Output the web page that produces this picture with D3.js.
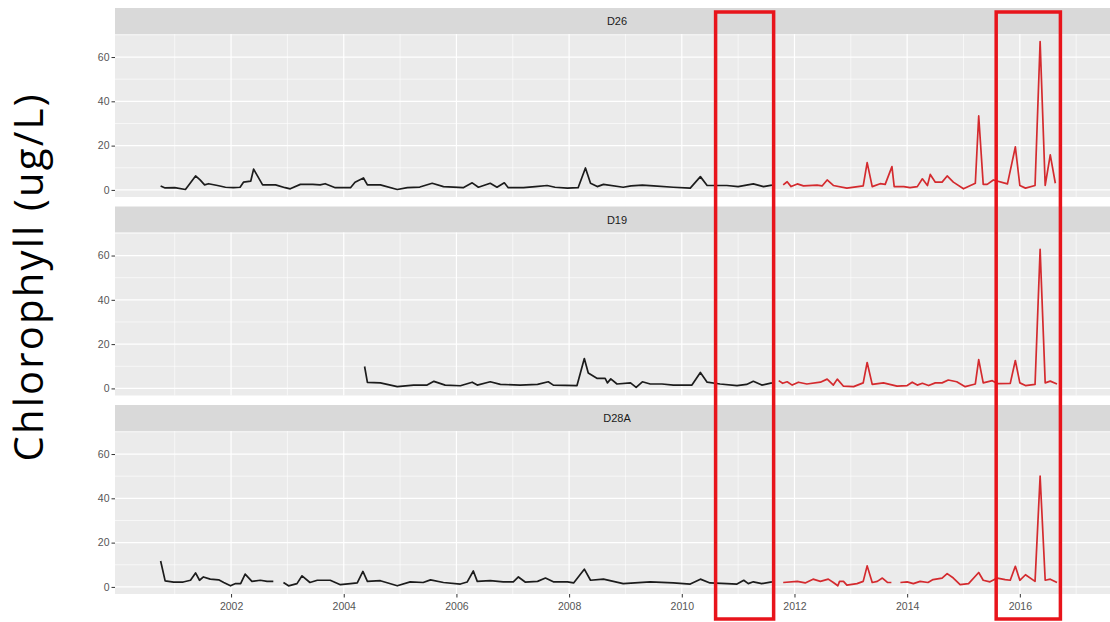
<!DOCTYPE html>
<html>
<head>
<meta charset="utf-8">
<script src="https://cdn.jsdelivr.net/npm/d3@7"></script>
<style>
  body { margin: 0; background: #fff; }
</style>
</head>
<body>
<div id="chart"></div>
<script>
// station names, top to bottom
const stations = ["D26", "D19", "D28A"];

// [decimal year, chlorophyll ug/L], null = gap in the record
const d26Old = [[2000.75,1.8],[2000.83,0.9],[2001.0,1.0],[2001.19,0.2],[2001.37,6.3],[2001.45,4.5],[2001.53,2.3],[2001.6,2.8],[2001.76,2.0],[2001.9,1.2],[2002.04,1.0],[2002.16,1.2],[2002.22,3.5],[2002.35,4],[2002.4,9.4],[2002.56,2.3],[2002.79,2.3],[2002.96,1],[2003.05,0.5],[2003.23,2.5],[2003.45,2.5],[2003.58,2.3],[2003.67,2.8],[2003.85,1],[2004.12,1],[2004.2,3.5],[2004.35,5.4],[2004.42,2.3],[2004.65,2.3],[2004.95,0.2],[2005.13,1],[2005.35,1.3],[2005.57,3],[2005.77,1.5],[2006.12,1],[2006.28,3.2],[2006.39,1.2],[2006.6,3],[2006.72,1.2],[2006.85,3.2],[2006.92,1],[2007.19,1],[2007.4,1.5],[2007.61,2],[2007.75,1.2],[2007.97,0.8],[2008.16,1],[2008.29,9.9],[2008.38,3],[2008.5,1.5],[2008.61,2.5],[2008.96,1.2],[2009.1,1.8],[2009.3,2.2],[2009.5,1.8],[2009.85,1.2],[2010.15,0.8],[2010.33,6],[2010.45,2],[2010.8,2],[2011.0,1.5],[2011.27,2.7],[2011.45,1.5],[2011.6,2.2]];
const d26New = [[2011.8,2.3],[2011.87,3.7],[2011.94,1.5],[2012.05,2.7],[2012.16,1.8],[2012.4,2.2],[2012.49,1.8],[2012.58,4.5],[2012.69,2],[2012.93,0.8],[2013.22,1.8],[2013.29,12.3],[2013.38,1.5],[2013.52,2.8],[2013.61,2.5],[2013.73,10.5],[2013.77,1.5],[2013.94,1.5],[2014.05,1],[2014.18,1.5],[2014.27,5],[2014.36,2],[2014.41,7],[2014.5,3.5],[2014.62,3.5],[2014.71,6.3],[2014.82,3.5],[2015.0,0.5],[2015.21,3],[2015.27,33.4],[2015.35,2.5],[2015.42,2.5],[2015.53,4.5],[2015.78,2.7],[2015.92,19.4],[2016.0,2],[2016.1,0.8],[2016.27,2],[2016.36,67],[2016.45,2],[2016.54,15.8],[2016.63,3]];

const d19Old = [[2004.37,9.9],[2004.42,2.7],[2004.65,2.5],[2004.95,0.8],[2005.24,1.5],[2005.48,1.5],[2005.6,3.2],[2005.8,1.5],[2006.07,1.2],[2006.28,2.8],[2006.37,1.5],[2006.6,3],[2006.78,1.8],[2007.13,1.5],[2007.44,1.8],[2007.63,3],[2007.72,1.5],[2008.14,1.3],[2008.27,13.5],[2008.34,7],[2008.5,4.5],[2008.64,4.5],[2008.68,2.5],[2008.74,4.3],[2008.85,2],[2009.09,2.5],[2009.19,0.5],[2009.3,3],[2009.44,2],[2009.65,2],[2009.85,1.5],[2010.18,1.5],[2010.33,7.2],[2010.45,2.8],[2010.68,2],[2010.98,1.3],[2011.15,1.8],[2011.27,3.2],[2011.42,1.5],[2011.6,2.5]];
const d19New = [[2011.72,3.5],[2011.79,2.3],[2011.87,3],[2011.96,1.5],[2012.07,2.8],[2012.22,2],[2012.46,2.8],[2012.58,4.2],[2012.69,1.5],[2012.76,4.2],[2012.87,1],[2013.05,0.8],[2013.22,2.5],[2013.29,11.7],[2013.38,1.8],[2013.58,2.5],[2013.82,1],[2014.0,1.3],[2014.09,2.8],[2014.18,1.5],[2014.27,2.3],[2014.38,1.3],[2014.5,2.5],[2014.62,2.5],[2014.73,3.8],[2014.88,3],[2015.03,0.8],[2015.21,2],[2015.27,13],[2015.35,2.5],[2015.51,3.5],[2015.6,2.2],[2015.83,2.3],[2015.92,12.6],[2016.0,2.5],[2016.1,1.3],[2016.27,1.8],[2016.36,62.8],[2016.45,2.5],[2016.54,3.3],[2016.66,2]];

const d28aOld = [[2000.75,11.7],[2000.83,2.7],[2000.98,2.2],[2001.15,2.2],[2001.28,3],[2001.37,6.3],[2001.44,3],[2001.51,4.5],[2001.63,3.5],[2001.78,3.2],[2001.87,2],[2001.99,0.5],[2002.08,1.5],[2002.17,1.5],[2002.25,5.8],[2002.37,2.5],[2002.52,3],[2002.64,2.5],[2002.75,2.5],[2002.84,null],[2002.93,2],[2003.02,0.5],[2003.17,1.5],[2003.26,5],[2003.4,2],[2003.53,3],[2003.76,3],[2003.94,1],[2004.12,1.5],[2004.24,1.8],[2004.34,7],[2004.42,2.5],[2004.65,2.8],[2004.95,0.5],[2005.18,2.3],[2005.41,2],[2005.54,3.2],[2005.77,2],[2006.07,1.3],[2006.19,2.2],[2006.3,7.2],[2006.37,2.5],[2006.6,2.8],[2006.83,2.3],[2007.01,2.3],[2007.1,4.5],[2007.22,2.2],[2007.44,2.5],[2007.58,4],[2007.72,2.3],[2007.97,2.3],[2008.08,1.8],[2008.27,8],[2008.38,3],[2008.61,3.5],[2008.96,1.5],[2009.44,2.3],[2009.85,1.8],[2010.15,1.3],[2010.33,3.5],[2010.5,1.8],[2010.8,1.5],[2010.98,1.3],[2011.1,3],[2011.18,1.5],[2011.27,2.3],[2011.42,1.5],[2011.6,2.3]];
const d28aNew = [[2011.8,2],[2012.05,2.5],[2012.19,1.8],[2012.33,3.5],[2012.46,2.5],[2012.6,3.5],[2012.69,2],[2012.77,0.5],[2012.8,2.5],[2012.87,2.5],[2012.93,0.8],[2013.11,1.5],[2013.22,2.5],[2013.29,9.5],[2013.38,2],[2013.47,2.5],[2013.56,4],[2013.65,2],[2013.72,2],[2013.8,null],[2013.88,2],[2014.0,2.3],[2014.11,1.5],[2014.23,2.5],[2014.37,2],[2014.46,3.3],[2014.62,4],[2014.71,6],[2014.82,4],[2014.94,1],[2015.09,1.5],[2015.27,6.5],[2015.35,3],[2015.47,2.3],[2015.6,4],[2015.74,3.3],[2015.83,3],[2015.92,9.3],[2016.0,3],[2016.1,5.5],[2016.27,2.5],[2016.36,50],[2016.45,3],[2016.54,3.5],[2016.66,2]];

// tick values
const yTicks = [0, 20, 40, 60];
const yMinor = [10, 30, 50, 70];
const xTicks = [2002, 2004, 2006, 2008, 2010, 2012, 2014, 2016];
const xMinor = [2001, 2003, 2005, 2007, 2009, 2011, 2013, 2015, 2017];

// highlighted periods (the red boxes), in years
const boxes = [[2010.6, 2011.63], [2015.58, 2016.72]];

const series = [
  { old: d26Old, recent: d26New },
  { old: d19Old, recent: d19New },
  { old: d28aOld, recent: d28aNew },
];

const size = { width: 1110, height: 622 };
const panel = { left: 115, right: 1119, firstTop: 8, step: 198.5, strip: 26, height: 163 };
const font = "Liberation Sans, Arial, sans-serif";

const svg = d3.select("#chart")
  .append("svg")
  .attr("width", size.width)
  .attr("height", size.height)
  .style("display", "block");

// shared x scale for every facet
const x = d3.scaleLinear()
  .domain([1999.94, 2017.76])
  .range([panel.left, panel.right]);

const line = d3.line()
  .defined((d) => d[1] !== null)
  .x((d) => x(d[0]))
  .y((d) => d.y);

stations.forEach((name, i) => {
  const top = panel.firstTop + i * panel.step;
  const plotTop = top + panel.strip;
  const plotBottom = plotTop + panel.height;

  const y = d3.scaleLinear()
    .domain([-3.2, 70.4])
    .range([plotBottom, plotTop]);

  const g = svg.append("g");

  // strip
  g.append("rect")
    .attr("x", panel.left).attr("y", top)
    .attr("width", panel.right - panel.left).attr("height", panel.strip)
    .attr("fill", "#d9d9d9");
  g.append("text")
    .attr("x", (panel.left + panel.right) / 2)
    .attr("y", top + panel.strip / 2 + 4)
    .attr("text-anchor", "middle")
    .style("font-family", font)
    .style("font-size", "11px")
    .attr("fill", "#1a1a1a")
    .text(name);

  // panel background
  g.append("rect")
    .attr("x", panel.left).attr("y", plotTop)
    .attr("width", panel.right - panel.left).attr("height", panel.height)
    .attr("fill", "#ebebeb");

  // grid, minor first then major
  g.selectAll(".hminor").data(yMinor).join("line")
    .attr("x1", panel.left).attr("x2", panel.right)
    .attr("y1", (d) => y(d)).attr("y2", (d) => y(d))
    .attr("stroke", "#fff").attr("stroke-width", 0.6);
  g.selectAll(".vminor").data(xMinor).join("line")
    .attr("x1", (d) => x(d)).attr("x2", (d) => x(d))
    .attr("y1", plotTop).attr("y2", plotBottom)
    .attr("stroke", "#fff").attr("stroke-width", 0.6);
  g.selectAll(".hmajor").data(yTicks).join("line")
    .attr("x1", panel.left).attr("x2", panel.right)
    .attr("y1", (d) => y(d)).attr("y2", (d) => y(d))
    .attr("stroke", "#fff").attr("stroke-width", 1.2);
  g.selectAll(".vmajor").data(xTicks).join("line")
    .attr("x1", (d) => x(d)).attr("x2", (d) => x(d))
    .attr("y1", plotTop).attr("y2", plotBottom)
    .attr("stroke", "#fff").attr("stroke-width", 1.2);

  // y axis
  const yAxis = g.append("g")
    .attr("transform", `translate(${panel.left},0)`)
    .call(d3.axisLeft(y).tickValues(yTicks).tickSize(3.5).tickPadding(2));
  yAxis.select(".domain").remove();
  yAxis.selectAll("line").attr("stroke", "#333");
  yAxis.selectAll("text")
    .style("font-family", font).style("font-size", "10.5px").attr("fill", "#555");

  // x axis only under the last facet
  if (i === stations.length - 1) {
    const xAxis = g.append("g")
      .attr("transform", `translate(0,${plotBottom})`)
      .call(d3.axisBottom(x).tickValues(xTicks).tickFormat((d) => d).tickSize(3.5).tickPadding(5));
    xAxis.select(".domain").remove();
    xAxis.selectAll("line").attr("stroke", "#333");
    xAxis.selectAll("text")
      .style("font-family", font).style("font-size", "10.5px").attr("fill", "#555");
  }

  // the two records: older one in black, recent one in red
  const withY = (arr) => arr.map((d) => Object.assign([d[0], d[1]], { y: d[1] === null ? 0 : y(d[1]) }));
  g.append("path")
    .datum(withY(series[i].old))
    .attr("fill", "none")
    .attr("stroke", "#1c1c1c")
    .attr("stroke-width", 1.7)
    .attr("stroke-linejoin", "round")
    .attr("d", line);
  g.append("path")
    .datum(withY(series[i].recent))
    .attr("fill", "none")
    .attr("stroke", "#d42a2e")
    .attr("stroke-width", 1.7)
    .attr("stroke-linejoin", "round")
    .attr("d", line);
});

// big y title
svg.append("text")
  .attr("transform", `translate(43,278) rotate(-90)`)
  .attr("text-anchor", "middle")
  .style("font-family", "Open Sans, Lato, sans-serif")
  .style("font-size", "40px")
  .attr("textLength", 367)
  .attr("lengthAdjust", "spacing")
  .attr("fill", "#000")
  .text("Chlorophyll (ug/L)");

// red boxes over the periods of interest
svg.selectAll(".box").data(boxes).join("rect")
  .attr("x", (d) => x(d[0]))
  .attr("y", 12)
  .attr("width", (d) => x(d[1]) - x(d[0]))
  .attr("height", 607)
  .attr("fill", "none")
  .attr("stroke", "#e8141b")
  .attr("stroke-width", 3.5);
</script>
</body>
</html>
